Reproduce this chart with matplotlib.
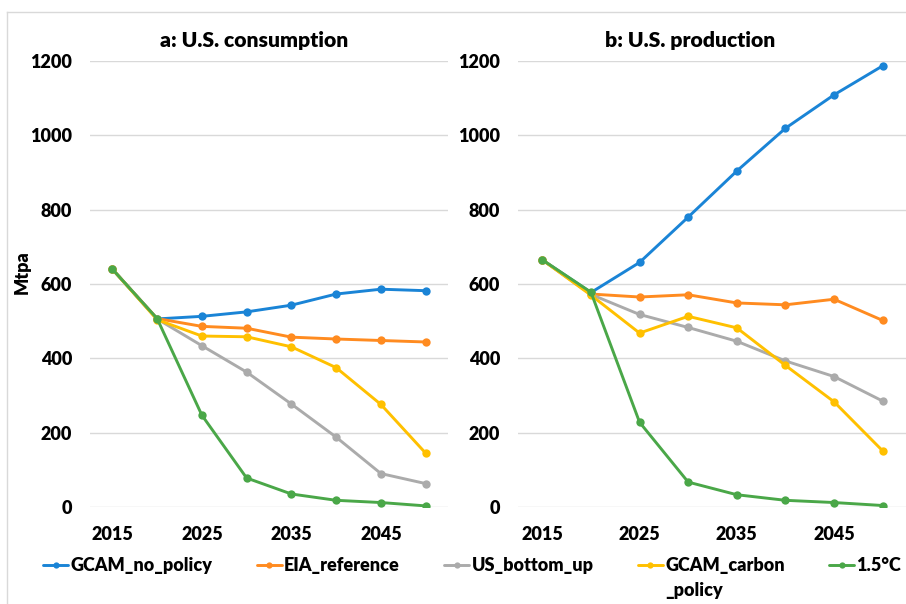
import matplotlib
matplotlib.use("Agg")
import matplotlib.pyplot as plt
from matplotlib.lines import Line2D

plt.rcParams['font.family'] = ['Lato', 'DejaVu Sans']
WT = 'heavy'
plt.rcParams['font.weight'] = WT

years = [2015, 2020, 2025, 2030, 2035, 2040, 2045, 2050]
xtick_years = [2015, 2025, 2035, 2045]
yticks = [0, 200, 400, 600, 800, 1000, 1200]

series_names = ["GCAM_no_policy", "EIA_reference", "US_bottom_up", "GCAM_carbon", "1.5°C"]
label_continuation = "_policy"
series_colors = ["#1A84D6", "#FF8B20", "#ABABAB", "#FFC000", "#4AA748"]

# a: U.S. consumption (Mtpa)
cons_gcam_no_policy = [640, 506, 513, 525, 543, 573, 586, 582]
cons_eia_reference = [640, 507, 486, 481, 457, 452, 448, 444]
cons_us_bottom_up = [640, 506, 434, 363, 277, 188, 90, 63]
cons_gcam_carbon_policy = [640, 504, 460, 458, 431, 375, 276, 145]
cons_1p5c = [640, 507, 247, 78, 35, 18, 12, 3]

# b: U.S. production (Mtpa)
prod_gcam_no_policy = [665, 577, 658, 780, 904, 1019, 1109, 1187]
prod_eia_reference = [665, 573, 565, 571, 549, 544, 559, 502]
prod_us_bottom_up = [665, 572, 518, 483, 446, 393, 351, 285]
prod_gcam_carbon_policy = [665, 570, 468, 513, 482, 381, 283, 151]
prod_1p5c = [665, 578, 228, 67, 33, 18, 12, 4]

cons = [cons_gcam_no_policy, cons_eia_reference, cons_us_bottom_up,
        cons_gcam_carbon_policy, cons_1p5c]
prod = [prod_gcam_no_policy, prod_eia_reference, prod_us_bottom_up,
        prod_gcam_carbon_policy, prod_1p5c]

W, H = 906, 604
fig = plt.figure(figsize=(W / 100, H / 100), dpi=100)
fig.patch.set_facecolor('white')

def px_axes(x0, x1, ytop, ybot):
    return fig.add_axes([x0 / W, 1 - ybot / H, (x1 - x0) / W, (ybot - ytop) / H])

ax1 = px_axes(90, 448, 61, 507)
ax2 = px_axes(518, 907, 61, 507)

FS = 13
handles = []
for ax, data in [(ax1, cons), (ax2, prod)]:
    for name, col, vals in zip(series_names, series_colors, data):
        ln, = ax.plot(years, vals, color=col, lw=2.1, marker='o', ms=6,
                      markeredgewidth=0, label=name, solid_capstyle='round',
                      zorder=3)
        if ax is ax1:
            handles.append(ln)
    ax.set_xlim(2012.5, 2052.5)
    ax.set_ylim(0, 1200)
    ax.set_yticks(yticks)
    ax.set_xticks(xtick_years)
    ax.set_xticklabels([str(y) for y in xtick_years])
    ax.grid(axis='y', color='#D9D9D9', lw=1.0, zorder=0)
    ax.set_axisbelow(True)
    for s in ax.spines.values():
        s.set_visible(False)
    ax.tick_params(axis='both', length=0, labelsize=FS)
    ax.tick_params(axis='x', pad=14)
    ax.tick_params(axis='y', pad=13)
    for lab in ax.get_xticklabels() + ax.get_yticklabels():
        lab.set_fontweight(WT)

fig.text(254 / W, 1 - 41 / H, "a: U.S. consumption", ha='center', va='center',
         fontsize=15.2, fontweight=WT)
fig.text(690 / W, 1 - 40 / H, "b: U.S. production", ha='center', va='center',
         fontsize=15.2, fontweight=WT)
fig.text(22 / W, 1 - 272 / H, "Mtpa", ha='center', va='center', rotation=90,
         fontsize=FS, fontweight=WT)

# chart-area border
fig.add_artist(Line2D([7 / W, 1], [1 - 12 / H, 1 - 12 / H], color='#D9D9D9', lw=1,
                      transform=fig.transFigure))
fig.add_artist(Line2D([7 / W, 7 / W], [0, 1 - 12 / H], color='#D9D9D9', lw=1,
                      transform=fig.transFigure))

LFS = 13
leg = fig.legend(handles=handles, labels=series_names, ncol=5,
                 loc='upper left', bbox_to_anchor=(43 / W, 1 - 557 / H),
                 frameon=False, fontsize=LFS, handlelength=1.4,
                 handletextpad=0.12, columnspacing=2.45, borderpad=0,
                 borderaxespad=0, markerscale=0.75)
for t in leg.get_texts():
    t.set_fontweight(WT)

fig.canvas.draw()
bb = leg.get_texts()[3].get_window_extent()
fig.text(bb.x0 / W, (bb.y0 - 25) / H, label_continuation, ha='left', va='bottom',
         fontsize=LFS, fontweight=WT)

fig.savefig("out.png", dpi=100, facecolor='white')
